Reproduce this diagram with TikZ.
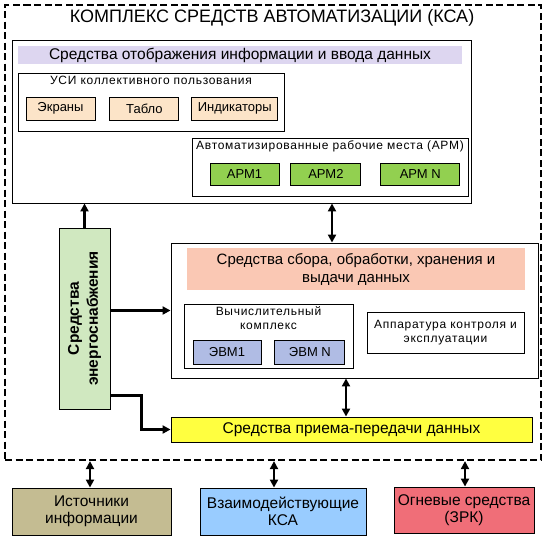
\documentclass[tikz,border=0pt]{standalone}
\usepackage{fontspec}
\setmainfont{Liberation Sans}
\newfontfamily\spacedfont[LetterSpace=6]{Liberation Sans}
\usetikzlibrary{arrows.meta, positioning, calc}
\definecolor{lavender}{RGB}{221,214,240}
\definecolor{peach}{RGB}{252,228,200}
\definecolor{armgreen}{RGB}{146,208,80}
\definecolor{evmblue}{RGB}{176,188,228}
\definecolor{powergreen}{RGB}{208,232,192}
\definecolor{salmon}{RGB}{250,200,180}
\definecolor{transyellow}{RGB}{255,255,64}
\definecolor{khaki}{RGB}{196,188,146}
\definecolor{skyblue}{RGB}{153,204,255}
\definecolor{firered}{RGB}{240,110,120}

\begin{document}
\begin{tikzpicture}[
    x=1pt, y=-1pt,
    wh/.style 2 args={minimum width=#1pt, minimum height=#2pt},
    base/.style={rectangle, draw=black, line width=0.9pt, align=center, inner sep=1pt},
    group/.style={base, fill=white},
    band/.style={rectangle, align=center, inner sep=1pt},
    item/.style={base, font=\fontsize{13}{15}\selectfont},
    caption/.style={align=center, inner sep=1pt, font=\spacedfont\fontsize{12}{14}\selectfont},
    outer/.style={base, dash pattern=on 7pt off 3.5pt, line width=2.2pt},
    ext/.style={base, font=\fontsize{15.5}{17.5}\selectfont},
    line/.style={draw=black, line width=2.2pt, -{Triangle[length=8pt, width=8pt]}},
    both/.style={line, {Triangle[length=8pt, width=8pt]}-{Triangle[length=8pt, width=8pt]}}
]
\useasboundingbox (0,0) rectangle (548,536);

\node[outer, wh={536}{455}] (kca) at (273,232.5) {};
\node[font=\fontsize{18}{20}\selectfont, inner sep=0pt] (title) at (272,18) {КОМПЛЕКС СРЕДСТВ АВТОМАТИЗАЦИИ (КСА)};

% display and input
\node[group, wh={459}{163}] (disp) at (241.5,121.5) {};
\node[band, fill=lavender, wh={444}{18}, font=\fontsize{15.5}{17}\selectfont] (dispband) at (240,55) {Средства отображения информации и ввода данных};

\node[group, wh={266}{58}] (usi) at (151,102) {};
\node[caption, below=2pt of usi.north] (usilbl) {УСИ коллективного пользования};
\node[item, fill=peach, wh={69}{23}] (screens) at (60.5,108.5) {Экраны};
\node[item, fill=peach, wh={69}{23}, right=14pt of screens] (tablo) {Табло};
\node[item, fill=peach, wh={86}{23}, right=12pt of tablo] (indic) {Индикаторы};

\node[group, wh={276}{58}] (arm) at (330,167) {};
\node[caption, below=2pt of arm.north] (armlbl) {Автоматизированные рабочие места (АРМ)};
\node[item, fill=armgreen, wh={69}{22}] (arm1) at (244.5,174) {АРМ1};
\node[item, fill=armgreen, wh={70}{22}, right=11pt of arm1] (arm2) {АРМ2};
\node[item, fill=armgreen, wh={79}{22}, right=19pt of arm2] (armn) {АРМ N};

% power supply
\node[base, fill=powergreen, wh={51}{181}] (power) at (84.5,318.5) {};
\node[rotate=90, align=center, font=\bfseries\fontsize{15.5}{19}\selectfont] (powerlbl) at (power) {Средства\\энергоснабжения};

% processing
\node[group, wh={367}{135}] (proc) at (354.5,310.5) {};
\node[band, fill=salmon, wh={338}{42}, font=\fontsize{15}{18}\selectfont] (procband) at (356,269) {Средства сбора, обработки, хранения и\\выдачи данных};
\node[group, wh={169}{64}] (vk) at (268.5,336) {};
\node[caption, text width=150pt, below=2pt of vk.north] (vklbl) {Вычислительный\\комплекс};
\node[item, fill=evmblue, wh={68}{24}] (evm1) at (227,352) {ЭВМ1};
\node[item, fill=evmblue, wh={70}{24}, right=13pt of evm1] (evmn) {ЭВМ N};
\node[group, caption, wh={157}{41}] (app) at (445.5,332.5) {Аппаратура контроля и\\эксплуатации};

% transfer
\node[base, fill=transyellow, wh={361}{25}, font=\fontsize{15.5}{17}\selectfont] (trans) at (351.5,429.5) {Средства приема-передачи данных};

% outside
\node[ext, fill=khaki, wh={159}{47}] (src) at (91.5,511.5) {Источники\\информации};
\node[ext, fill=skyblue, wh={166}{47}] (coop) at (283,511.5) {Взаимодействующие\\КСА};
\node[ext, fill=firered, wh={140}{46}] (fire) at (464,510) {Огневые средства\\(ЗРК)};

\coordinate (linkA) at (332,0);
\coordinate (linkB) at (346,0);
\coordinate (linkC) at (90,0);
\coordinate (linkD) at (274,0);
\coordinate (linkE) at (465,0);

\draw[line] (power.north) -- (power.north |- disp.south);
\draw[both] (linkA |- disp.south) -- (linkA |- proc.north);
\draw[line] (power.east |- proc.west) -- (proc.west);
\draw[line] ([yshift=14pt]power.south east) -- ++(31,0) |- (trans.west);
\draw[both] (linkB |- proc.south) -- (linkB |- trans.north);
\draw[both] (linkC |- kca.south) -- (linkC |- src.north);
\draw[both] (linkD |- kca.south) -- (linkD |- coop.north);
\draw[both] (linkE |- kca.south) -- (linkE |- fire.north);
\end{tikzpicture}
\end{document}
